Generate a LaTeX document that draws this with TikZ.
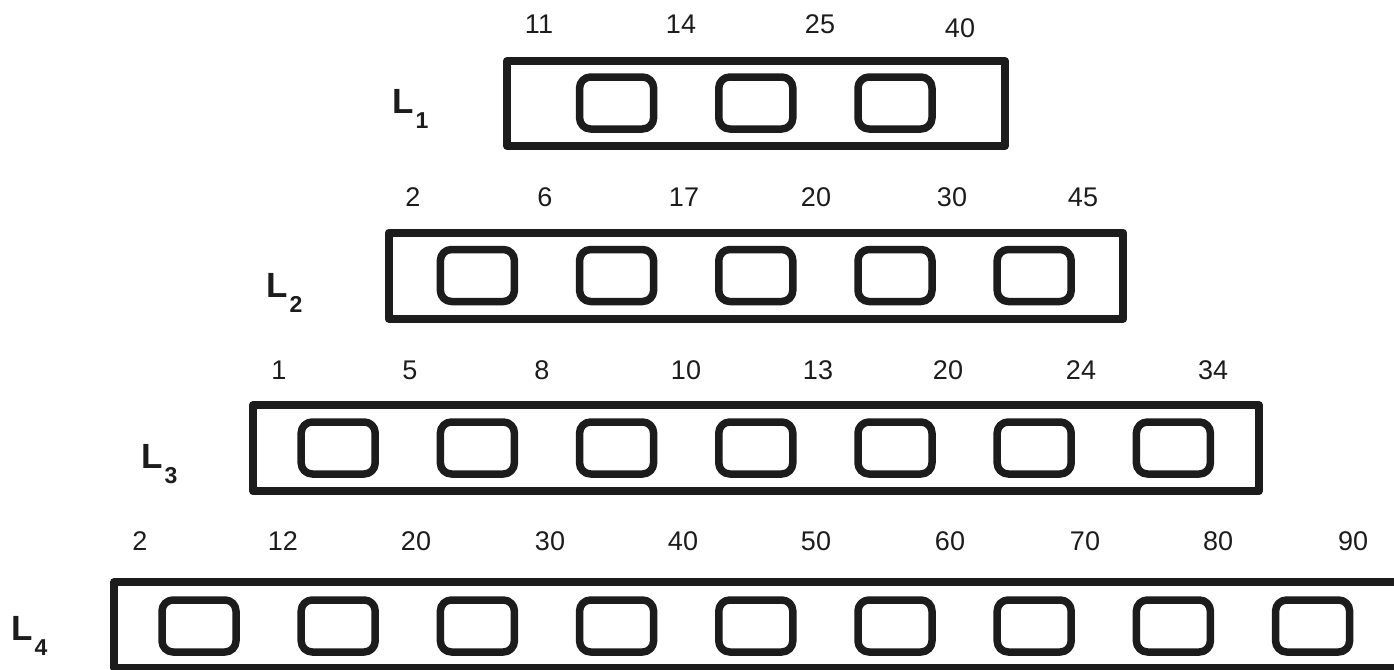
\documentclass[tikz,border=0pt]{standalone}
\usepackage{fontspec}
\setmainfont{Liberation Sans}
\definecolor{ink}{HTML}{1C1C1C}

\begin{document}
\begin{tikzpicture}[x=1pt, y=-1pt, line join=round, line cap=round,
    list/.style={draw=ink, line width=8pt, inner sep=0pt, minimum height=86pt},
    cell/.style={draw=ink, line width=7.5pt, rounded corners=11pt, inner sep=0pt,
      minimum width=74pt, minimum height=52pt},
    key/.style={text=ink, inner sep=0pt, font=\fontsize{27}{30}\selectfont},
    lname/.style={text=ink, inner sep=0pt, anchor=base west,
      font=\bfseries\fontsize{35}{40}\selectfont}]
  \useasboundingbox (0,0) rectangle (1394,669);
  \def\sub#1{\kern2pt\raisebox{-15pt}{\fontsize{23}{23}\selectfont #1}}
  % the four lists, all centred on x = 756
  \node[list, minimum width=498pt, minimum height=85pt] (list1) at (756,103.5) {};
  \node[list, minimum width=734.5pt] (list2) at (756,275.75) {};
  \node[list, minimum width=1006pt] (list3) at (756,448.25) {};
  \node[list, minimum width=1286pt] (list4) at (757.25,625) {};
  % cells on a common grid
  \foreach \k in {3,4,5} \node[cell] (c1-\k) at (199+139.2*\k,103) {};
  \foreach \k in {2,...,6} \node[cell] (c2-\k) at (199+139.2*\k,275.5) {};
  \foreach \k in {1,...,7} \node[cell] (c3-\k) at (199+139.2*\k,448) {};
  \foreach \k in {0,...,8} \node[cell] (c4-\k) at (199+139.2*\k,626) {};
  % keys
  \foreach \x/\v [count=\i] in {539/11, 681/14, 820/25}
    \node[key] (k1-\i) at (\x,24) {\v};
  \node[key] (k1-4) at (960,28) {40};
  \foreach \x/\v [count=\i] in {413/2, 545/6, 684/17, 816/20, 952/30, 1083/45}
    \node[key] (k2-\i) at (\x,197) {\v};
  \foreach \x/\v [count=\i] in {279/1, 410/5, 542/8, 686/10, 818/13, 948/20, 1081/24, 1213/34}
    \node[key] (k3-\i) at (\x,370) {\v};
  \foreach \x/\v [count=\i] in {140/2, 283/12, 416/20, 550/30, 683/40, 816/50, 950/60, 1085/70, 1218/80, 1353/90}
    \node[key] (k4-\i) at (\x,541) {\v};
  % list names
  \node[lname] (name1) at (392,113) {L\sub{1}};
  \node[lname] (name2) at (266,297) {L\sub{2}};
  \node[lname] (name3) at (141,468) {L\sub{3}};
  \node[lname] (name4) at (11,640) {L\sub{4}};
\end{tikzpicture}
\end{document}
